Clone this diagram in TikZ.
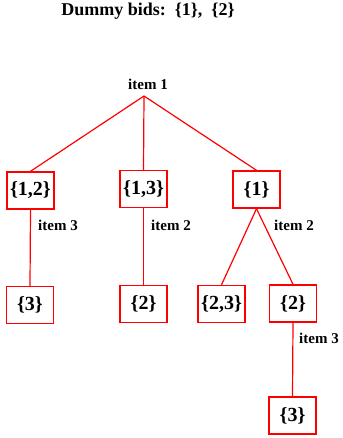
\documentclass[tikz,border=0pt]{standalone}
\usepackage{fontspec}
\setmainfont{Liberation Serif}
\begin{document}
\begin{tikzpicture}[x=1pt,y=-1pt,
  setbox/.style={draw=red,line width=1.4pt,minimum width=47pt,minimum height=37pt,
    inner sep=0pt,font=\fontsize{20}{22}\selectfont\bfseries},
  edge/.style={red,line width=1.2pt},
  itemlbl/.style={inner sep=0pt,anchor=west,font=\fontsize{15}{17}\selectfont\bfseries}]
\useasboundingbox (0,0) rectangle (342,438);
% heading
\node[inner sep=0pt,font=\fontsize{18}{20}\selectfont\bfseries] (title) at (148,11.5) {Dummy bids:\ \ \{1\},\ \ \{2\}};
% root of the tree
\node[inner sep=0pt,font=\fontsize{15}{17}\selectfont\bfseries] (root) at (148,84) {item 1};
\coordinate (apex) at (144,96);
% first level
\node[setbox] (a) at (30.5,190.5) {\{1,2\}};
\node[setbox] (b) at (143.5,189) {\{1,3\}};
\node[setbox] (c) at (256.5,189.5) {\{1\}};
% second level
\node[setbox] (a1) at (30,305) {\{3\}};
\node[setbox] (b1) at (143.5,304) {\{2\}};
\node[setbox] (c1) at (221.5,304) {\{2,3\}};
\node[setbox] (c2) at (293,303.5) {\{2\}};
% third level
\node[setbox] (c21) at (292.5,415.5) {\{3\}};
% edges
\draw[edge] (apex) -- (a.north);
\draw[edge] (apex) -- (b.north);
\draw[edge] (apex) -- (c.north);
\draw[edge] (a.south) -- (a1.north);
\draw[edge] (b.south) -- (b1.north);
\draw[edge] (c.south) -- (c1.north);
\draw[edge] (c.south) -- (c2.north);
\draw[edge] (c2.south) -- (c21.north);
% branch labels
\node[itemlbl] (la) at (38,225) {item 3};
\node[itemlbl] (lb) at (151,225) {item 2};
\node[itemlbl] (lc) at (274,225) {item 2};
\node[itemlbl] (lc2) at (299,338) {item 3};
\end{tikzpicture}
\end{document}
